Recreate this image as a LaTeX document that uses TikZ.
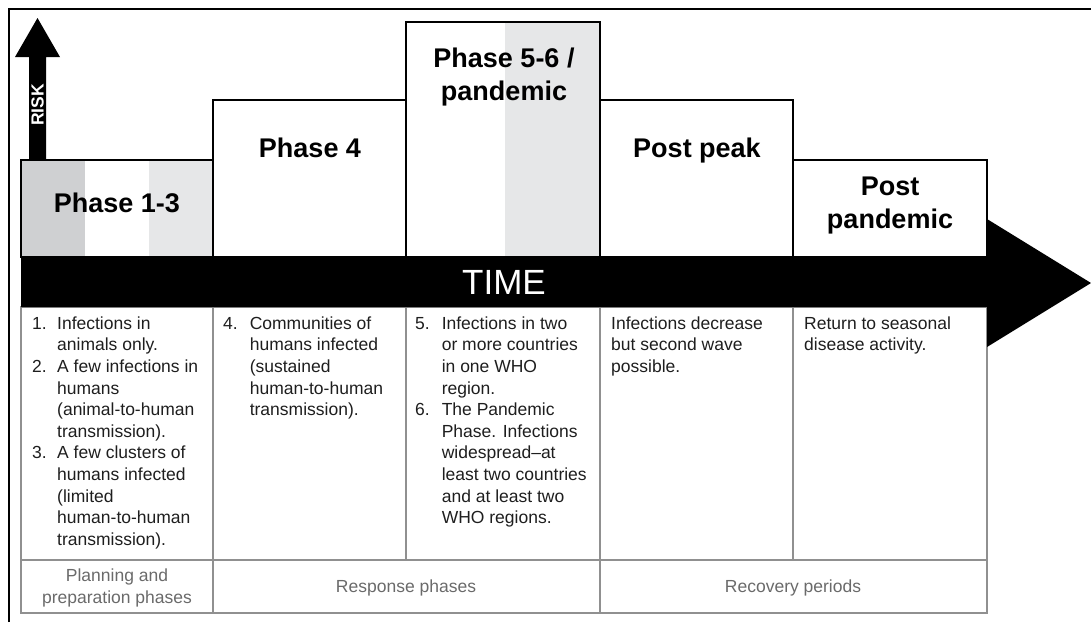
\documentclass[tikz,border=0pt]{standalone}
\usepackage{fontspec}
\setmainfont{Liberation Sans}
\definecolor{shadedark}{HTML}{CFD0D2}
\definecolor{shadelight}{HTML}{E6E7E8}
\definecolor{gridgray}{HTML}{909090}
\definecolor{notegray}{HTML}{6A6A6A}
\definecolor{textdark}{HTML}{1E1E1E}
\begin{document}
\begin{tikzpicture}[x=1pt,y=-1pt,
    box/.style={draw=black,line width=2pt},
    cell/.style={draw=gridgray,line width=1.8pt},
    title/.style={font=\fontsize{27}{33}\selectfont\bfseries,align=center,inner sep=0pt},
    desc/.style={font=\fontsize{17.5}{21.6}\selectfont,text=textdark,anchor=north west,inner sep=0pt},
    note/.style={font=\fontsize{17.5}{21.6}\selectfont,text=notegray,align=center,inner sep=0pt}]
    \useasboundingbox (0,0) rectangle (1091,622);

    % Frame
    \draw[line width=2.5pt] (9,622) -- (9,9) -- (1091,9);

    % Shading of the phase boxes
    \fill[shadedark] (21,160) rectangle (85,257);
    \fill[shadelight] (149,160) rectangle (213,257);
    \fill[shadelight] (505,22) rectangle (600,257);

    % Phase boxes
    \draw[box] (21,257) rectangle (213,160);
    \draw[box] (213,257) rectangle (406,100);
    \draw[box] (406,257) rectangle (600,22);
    \draw[box] (600,257) rectangle (793,100);
    \draw[box] (793,257) rectangle (987,160);

    % Phase titles
    \node[title] (t13) at (117,203) {Phase 1-3};
    \node[title] (t4) at (310,148) {Phase 4};
    \node[title] (t56) at (504,77) {Phase 5-6 /\\pandemic};
    \node[title] (tpeak) at (697,151) {Post peak};
    \node[title] (tpost) at (890,206) {Post\\pandemic};

    % Lower cells
    \draw[cell] (21,307) rectangle (987,613);
    \draw[cell] (21,560) -- (987,560);
    \foreach \x in {213,406,600,793}
        \draw[cell] (\x,307) -- (\x,560);
    \draw[cell] (213,560) -- (213,613);
    \draw[cell] (600,560) -- (600,613);

    % Risk arrow
    \fill (29,160) -- (29,57) -- (15,57) -- (37.5,18) -- (60,57) -- (46,57) -- (46,160) -- cycle;
    \node[rotate=90,text=white,font=\fontsize{17.5}{20}\selectfont\bfseries,inner sep=0pt] (risk) at (37.5,105) {RISK};

    % Time arrow
    \fill (21,257) -- (987,257) -- (987,219) -- (1091,283) -- (987,347) -- (987,307) -- (21,307) -- cycle;
    \node[text=white,font=\fontsize{35}{40}\selectfont,inner sep=0pt] (time) at (504,282) {TIME};

    % Descriptions
    \node[desc] (d13) at (32,314) {\begin{tabular}{@{}l@{\hspace{10.4pt}}l@{}}
        1. & Infections in\\
           & animals only.\\
        2. & A few infections in\\
           & humans\\
           & (animal-to-human\\
           & transmission).\\
        3. & A few clusters of\\
           & humans infected\\
           & (limited\\
           & human-to-human\\
           & transmission).
        \end{tabular}};
    \node[desc] (d4) at (223,314) {\begin{tabular}{@{}l@{\hspace{12pt}}l@{}}
        4. & Communities of\\
           & humans infected\\
           & (sustained\\
           & human-to-human\\
           & transmission).
        \end{tabular}};
    \node[desc] (d56) at (415,314) {\begin{tabular}{@{}l@{\hspace{12pt}}l@{}}
        5. & Infections in two\\
           & or more countries\\
           & in one WHO\\
           & region.\\
        6. & The Pandemic\\
           & Phase. Infections\\
           & widespread--at\\
           & least two countries\\
           & and at least two\\
           & WHO regions.
        \end{tabular}};
    \node[desc] (dpeak) at (611,314) {\begin{tabular}{@{}l@{}}
        Infections decrease\\
        but second wave\\
        possible.
        \end{tabular}};
    \node[desc] (dpost) at (804,314) {\begin{tabular}{@{}l@{}}
        Return to seasonal\\
        disease activity.
        \end{tabular}};

    % Period labels
    \node[note] (nplan) at (117,588) {Planning and\\preparation phases};
    \node[note] (nresp) at (406,588) {Response phases};
    \node[note] (nrec) at (793,588) {Recovery periods};
\end{tikzpicture}
\end{document}
